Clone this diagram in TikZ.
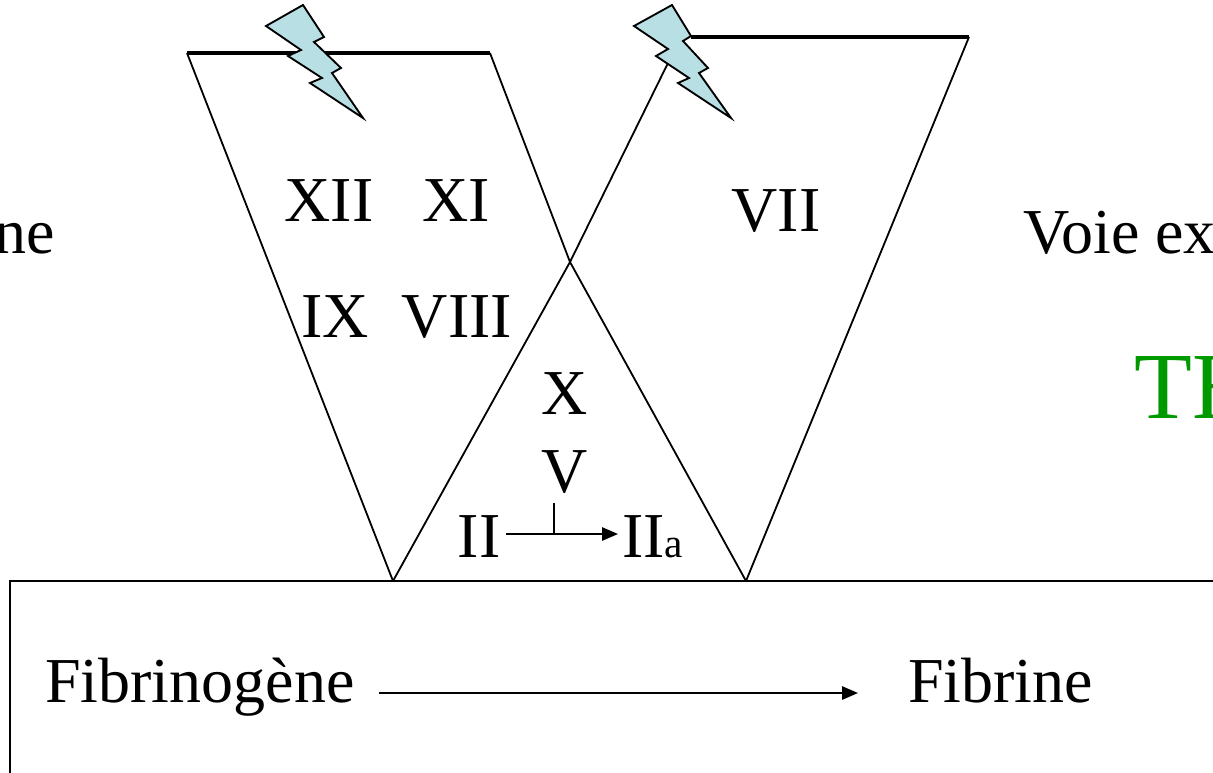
\documentclass[tikz,border=0pt]{standalone}
\usepackage{fontspec}
\setmainfont{Liberation Serif}
\usetikzlibrary{arrows.meta}
\definecolor{boltfill}{RGB}{184,223,228}
\definecolor{thgreen}{RGB}{0,153,0}
\tikzset{
  lab/.style={inner sep=0pt,font=\fontsize{48}{48}\selectfont,text=black,anchor=base},
  thin line/.style={draw=black,line width=1.35pt},
  thick line/.style={draw=black,line width=2.4pt},
  arrowline/.style={draw=black,line width=1.35pt,-{Triangle[length=12pt,width=10pt]}},
  bolt/.style={draw=black,line width=1.4pt,fill=boltfill,line join=miter}
}
\begin{document}
\begin{tikzpicture}[x=0.75pt,y=-0.75pt]
\useasboundingbox (0,0) rectangle (1213,772);
\clip (0,0) rectangle (1213,772);
% corners
\coordinate (a1) at (187,53);
\coordinate (a2) at (490,53);
\coordinate (a3) at (393,581);
\coordinate (c) at (746,581);
\coordinate (m) at (570,262);
\coordinate (b1) at (969,37);
\coordinate (b2) at (691,37);
\coordinate (b3) at (668,63);
\coordinate (p1) at (10,773);
\coordinate (p2) at (10,581);
\coordinate (p3) at (1215,581);
\draw[thin line] (a1) -- (a3);
\draw[thin line] (a2) -- (m) -- (c);
\draw[thin line] (b1) -- (c);
\draw[thin line] (b3) -- (m) -- (a3);
\draw[thick line] (a1) -- (a2);
\draw[thick line] (b2) -- (b1);
\draw[thin line,line width=1.5pt] (p1) -- (p2) -- (p3);
% bolts
\draw[bolt] (303,5) -- (324,37) -- (314,42) -- (341,68) -- (332,73) -- (363,118) -- (310,83) -- (322,78) -- (288,56) -- (301,50) -- (266,26) -- cycle;
\draw[bolt] (672,5) -- (691,36) -- (683,41) -- (708,68) -- (699,73) -- (731,118) -- (678,83) -- (689,78) -- (656,56) -- (668,49) -- (634,26) -- cycle;
% labels
\node[lab,anchor=base east] (ne) at (55,253) {ne};
\node[lab] (xii) at (329,221) {XII};
\node[lab] (xi) at (456,221) {XI};
\node[lab] (ix) at (335,337) {IX};
\node[lab] (viii) at (457,337) {VIII};
\node[lab] (vii) at (776,231) {VII};
\node[lab,anchor=base west] (voie) at (1023,253) {Voie ex};
\node[lab,anchor=base west,text=thgreen,font=\fontsize{71}{71}\selectfont] (th) at (1134,418) {TH};
\node[lab] (x) at (565,414) {X};
\node[lab] (v) at (565,492) {V};
\node[lab] (ii) at (479,557) {II};
\node[lab,anchor=base west] (iia) at (622,557) {II\fontsize{31}{31}\selectfont a};
\node[lab,anchor=base west] (fg) at (45,702) {Fibrinogène};
\node[lab,anchor=base west] (fb) at (908,702) {Fibrine};
% arrows
\coordinate (t) at (554,503);
\coordinate (tb) at (554,534);
\coordinate (s) at (506,534);
\coordinate (e) at (618,534);
\draw[arrowline] (s) -- (e);
\draw[thin line] (t) -- (tb);
\coordinate (f1) at (379,693);
\coordinate (f2) at (858,693);
\draw[arrowline] (f1) -- (f2);
\end{tikzpicture}
\end{document}
